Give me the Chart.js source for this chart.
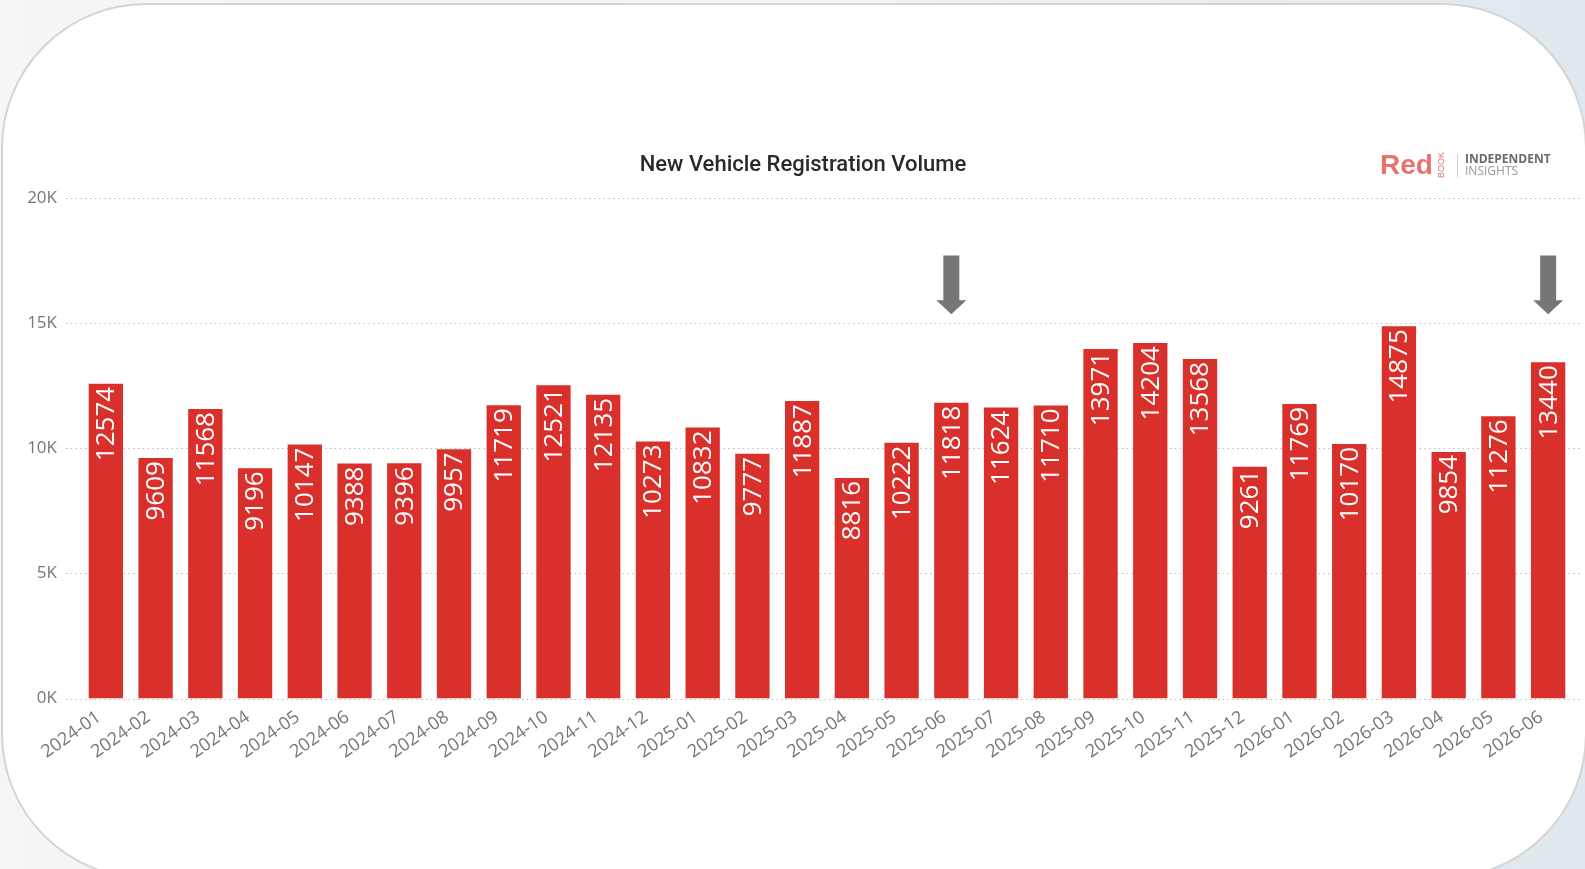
<!DOCTYPE html>
<html>
<head>
<meta charset="utf-8">
<title>New Vehicle Registration Volume</title>
<script src="https://cdn.jsdelivr.net/npm/chart.js@4.4.1/dist/chart.umd.min.js"></script>
<style>
  html, body { margin: 0; padding: 0; }
  body {
    width: 1585px; height: 869px; overflow: hidden; position: relative;
    background: linear-gradient(90deg, #f6f6f6 0%, #f1f3f4 55%, #dfe8ee 100%);
  }
  .card {
    position: absolute; left: 1px; top: 3px; width: 1586px; height: 876px;
    background: #fff; border: 2px solid #d4d4d4; border-radius: 145px;
    box-sizing: border-box;
  }
  #wrap { position: absolute; left: 0; top: 0; width: 1585px; height: 869px; }
</style>
</head>
<body>
<div class="card"></div>
<div id="wrap"><canvas id="chart"></canvas></div>
<script>
'use strict';

var months = ['2024-01','2024-02','2024-03','2024-04','2024-05','2024-06','2024-07','2024-08','2024-09','2024-10','2024-11','2024-12',
              '2025-01','2025-02','2025-03','2025-04','2025-05','2025-06','2025-07','2025-08','2025-09','2025-10','2025-11','2025-12',
              '2026-01','2026-02','2026-03','2026-04','2026-05','2026-06'];
var registrations = [12574, 9609, 11568, 9196, 10147, 9388, 9396, 9957, 11719, 12521, 12135, 10273,
                     10832, 9777, 11887, 8816, 10222, 11818, 11624, 11710, 13971, 14204, 13568, 9261,
                     11769, 10170, 14875, 9854, 11276, 13440];
var yTicks = [0, 5000, 10000, 15000, 20000];
var arrowMonths = ['2025-06', '2026-06'];

var chartTitle = 'New Vehicle Registration Volume';
var barColor = '#d9302c';
var textGrey = '#777';

// dotted gridlines run a bit wider than the bars
var dottedGrid = {
  id: 'dottedGrid',
  beforeDatasetsDraw: function (chart) {
    var ctx = chart.ctx, y = chart.scales.y;
    ctx.save();
    ctx.strokeStyle = '#b9b9b9';
    ctx.lineWidth = 1;
    ctx.setLineDash([1.5, 3.3]);
    yTicks.forEach(function (t) {
      var py = Math.round(y.getPixelForValue(t)) + 0.5;
      ctx.beginPath();
      ctx.moveTo(66, py);
      ctx.lineTo(1582, py);
      ctx.stroke();
    });
    ctx.restore();
  }
};

// value labels, white and rotated inside the top of each bar
var barLabels = {
  id: 'barLabels',
  afterDatasetsDraw: function (chart) {
    var ctx = chart.ctx;
    var meta = chart.getDatasetMeta(0);
    ctx.save();
    ctx.fillStyle = '#fff';
    ctx.font = '26px "Open Sans", sans-serif';
    ctx.textAlign = 'right';
    ctx.textBaseline = 'middle';
    meta.data.forEach(function (bar, i) {
      ctx.save();
      ctx.translate(bar.x + 1, bar.y + 3);
      ctx.rotate(-Math.PI / 2);
      ctx.fillText(String(registrations[i]), 0, 0);
      ctx.restore();
    });
    ctx.restore();
  }
};

// title, logo and the two grey arrows
var decorations = {
  id: 'decorations',
  afterDraw: function (chart) {
    var ctx = chart.ctx, x = chart.scales.x, y = chart.scales.y;
    ctx.save();

    ctx.fillStyle = '#2a2a2a';
    ctx.font = '500 22px Roboto, sans-serif';
    ctx.textAlign = 'center';
    ctx.textBaseline = 'middle';
    ctx.fillText(chartTitle, 803, 165);

    // logo
    ctx.textAlign = 'left';
    ctx.fillStyle = '#e8736e';
    ctx.font = 'bold 28px "Liberation Sans", Arial, sans-serif';
    ctx.fillText('Red', 1380, 166);
    ctx.save();
    ctx.translate(1442, 165);
    ctx.rotate(-Math.PI / 2);
    ctx.font = '9px "Liberation Sans", Arial, sans-serif';
    ctx.textAlign = 'center';
    ctx.fillText('BOOK', 0, 0);
    ctx.restore();
    ctx.strokeStyle = '#cfcfcf';
    ctx.lineWidth = 1;
    ctx.beginPath();
    ctx.moveTo(1457.5, 154);
    ctx.lineTo(1457.5, 177);
    ctx.stroke();
    ctx.fillStyle = '#6a6a6a';
    ctx.font = 'bold 12px "Open Sans", sans-serif';
    ctx.fillText('INDEPENDENT', 1465, 160);
    ctx.fillStyle = '#9a9a9a';
    ctx.font = '12px "Open Sans", sans-serif';
    ctx.fillText('INSIGHTS', 1465, 172);

    // arrows
    ctx.fillStyle = '#767676';
    arrowMonths.forEach(function (m) {
      var cx = x.getPixelForValue(months.indexOf(m));
      var top = y.getPixelForValue(17700);
      var tip = y.getPixelForValue(15350);
      var head = 14;
      ctx.beginPath();
      ctx.moveTo(cx - 8, top);
      ctx.lineTo(cx + 8, top);
      ctx.lineTo(cx + 8, tip - head);
      ctx.lineTo(cx + 15, tip - head);
      ctx.lineTo(cx, tip);
      ctx.lineTo(cx - 15, tip - head);
      ctx.lineTo(cx - 8, tip - head);
      ctx.closePath();
      ctx.fill();
    });
    ctx.restore();
  }
};

var canvas = document.getElementById('chart');
var chart = new Chart(canvas.getContext('2d'), {
  type: 'bar',
  data: {
    labels: months,
    datasets: [{
      label: 'Registrations',
      data: registrations,
      backgroundColor: barColor,
      borderWidth: 0,
      barPercentage: 0.69,
      categoryPercentage: 1
    }]
  },
  options: {
    responsive: true,
    maintainAspectRatio: false,
    animation: false,
    layout: { padding: { top: 198, right: 12, left: 0, bottom: 0 } },
    plugins: {
      legend: { display: false },
      tooltip: { enabled: false }
    },
    scales: {
      x: {
        grid: { display: false, drawTicks: false },
        border: { display: false },
        afterFit: function (scale) { scale.height = 170.5; },
        ticks: {
          color: textGrey,
          font: { family: '"Open Sans", sans-serif', size: 18 },
          minRotation: 35,
          maxRotation: 35,
          autoSkip: false,
          labelOffset: -7,
          padding: 8
        }
      },
      y: {
        min: 0,
        max: 20000,
        grid: { display: false, drawTicks: false },
        border: { display: false },
        afterFit: function (scale) { scale.width = 81; },
        afterBuildTicks: function (scale) {
          scale.ticks = yTicks.map(function (v) { return { value: v }; });
        },
        ticks: {
          color: textGrey,
          padding: 24,
          font: { family: '"Open Sans", sans-serif', size: 17 },
          callback: function (v) { return (v / 1000) + 'K'; }
        }
      }
    }
  },
  plugins: [dottedGrid, barLabels, decorations]
});
</script>
</body>
</html>
